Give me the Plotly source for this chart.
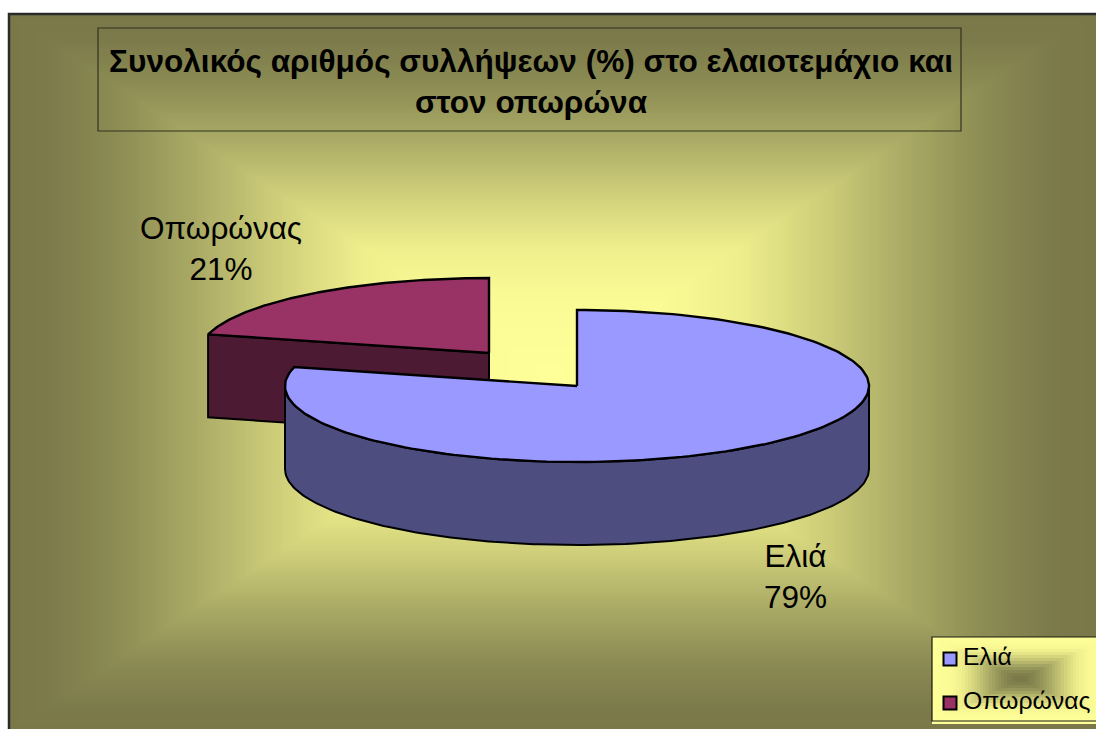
import numpy as np
import plotly.graph_objects as go

# Pie data
categories = ["Ελιά", "Οπωρώνας"]
shares = [79, 21]
top_colors = ["#9999FF", "#993366"]
side_colors = ["#4D4D80", "#4D1A33"]
title_lines = ["Συνολικός αριθμός συλλήψεων (%) στο ελαιοτεμάχιο και", "στον οπωρώνα"]

# Page-sized axes, so the geometry below reads in pixels
WIDTH, HEIGHT = 1096, 729
DEPTH = 83
CENTERS = [(577, 386), (489, 353)]  # each exploded slice has its own apex
RADII = [(292, 76), (290, 75)]

OLIVE_TO_YELLOW = [
    [0.00, "#FFFF99"], [0.20, "#FBFB96"], [0.35, "#EEEE8C"], [0.50, "#CFCF7A"],
    [0.65, "#ABAB66"], [0.80, "#8C8C54"], [0.93, "#7C7A4A"], [1.00, "#7A7848"],
]


def rim(center, radii, start_deg, end_deg, drop=0):
    """Points on the elliptical rim, clockwise from 12 o'clock."""
    theta = np.radians(np.linspace(start_deg, end_deg, 180))
    return center[0] + radii[0] * np.sin(theta), center[1] - radii[1] * np.cos(theta) + drop


def gradient(x0, x1, y0, y1, cx, cy, half_w, half_h, colorscale, step=3):
    """Rectangular from-centre gradient as a heatmap."""
    xs = np.arange(x0 + step / 2, x1 + step, step)
    ys = np.arange(y0 + step / 2, y1 + step, step)
    gx, gy = np.meshgrid(xs, ys)
    z = np.maximum(np.abs(gx - cx) / half_w, np.abs(gy - cy) / half_h)
    return go.Heatmap(x=xs, y=ys, z=z, zmin=0, zmax=1, colorscale=colorscale,
                      showscale=False, hoverinfo="skip", showlegend=False)


def polygon(xs, ys, color, width=2):
    return go.Scatter(x=xs, y=ys, mode="lines", fill="toself", fillcolor=color,
                      line=dict(color="black", width=width), hoverinfo="skip",
                      showlegend=False)


fig = go.Figure()

# Chart area and key backgrounds
fig.add_trace(gradient(9, WIDTH, 14, HEIGHT, 550, 373, 541, 359, OLIVE_TO_YELLOW))
fig.add_trace(gradient(932, WIDTH, 637, 721, 1020, 679, 88, 42,
                       [[1 - p, c] for p, c in reversed(OLIVE_TO_YELLOW)]))

# Slice angles follow from the shares
boundary = shares[0] / sum(shares) * 360

# Orchard slice: cut face first, then its top
c, r = CENTERS[1], RADII[1]
sx, sy = rim(c, r, boundary, boundary)
fig.add_trace(polygon([sx[0], c[0], c[0], sx[0], sx[0]],
                      [sy[0], c[1], c[1] + DEPTH, sy[0] + DEPTH, sy[0]], side_colors[1]))
rx, ry = rim(c, r, boundary, 360)
fig.add_trace(polygon([c[0], *rx, c[0]], [c[1], *ry, c[1]], top_colors[1], 2.4))

# Olive slice: outer wall of the front half, then its top
c, r = CENTERS[0], RADII[0]
wx, wy = rim(c, r, 90, 270)
bx, by = rim(c, r, 270, 90, DEPTH)
fig.add_trace(polygon([*wx, *bx, wx[0]], [*wy, *by, wy[0]], side_colors[0]))
rx, ry = rim(c, r, 0, boundary)
fig.add_trace(polygon([c[0], *rx, c[0]], [c[1], *ry, c[1]], top_colors[0], 2.4))

# Key: swatch and name for each category, placed inside its frame
key_x, key_text_x, key_ys = 950, 963, [659, 703]
fig.add_trace(go.Scatter(
    x=[key_x, key_x], y=key_ys, mode="markers",
    marker=dict(symbol="square", size=13, color=top_colors,
                line=dict(color="black", width=2)),
    hoverinfo="skip", showlegend=False))
fig.add_trace(go.Scatter(
    x=[key_text_x, key_text_x], y=key_ys, mode="text", text=categories,
    textposition="middle right", textfont=dict(size=24.8, color="black"),
    hoverinfo="skip", showlegend=False))

# Data labels
label_positions = [(795, 576), (221, 248)]
annotations = [
    dict(x=px, y=py, xref="x", yref="y", showarrow=False,
         text=f"{name}<br>{value}%", font=dict(size=31.5, color="black"))
    for (px, py), name, value in zip(label_positions, categories, shares)
]

shapes = [
    # outer chart border, running off the page to the right and bottom
    dict(type="rect", xref="x", yref="y", x0=9, y0=14, x1=WIDTH + 10, y1=HEIGHT + 10,
         line=dict(color="#2A2A2A", width=2.5), layer="above"),
    # title frame
    dict(type="rect", xref="x", yref="y", x0=98, y0=28, x1=961, y1=131,
         line=dict(color="#33331F", width=1.2), layer="above"),
    # key frame
    dict(type="rect", xref="x", yref="y", x0=932, y0=637, x1=WIDTH + 10, y1=721,
         line=dict(color="#1A1A10", width=1.2), layer="above"),
]

fig.update_layout(
    width=WIDTH, height=HEIGHT, autosize=False,
    margin=dict(l=0, r=0, t=0, b=0),
    paper_bgcolor="white", plot_bgcolor="white", showlegend=False,
    font=dict(family="Liberation Sans, Arial, sans-serif", color="black"),
    title=dict(text="<br>".join(title_lines), x=531 / WIDTH, xanchor="center",
               y=1 - 72 / HEIGHT, yanchor="middle",
               font=dict(size=31.6, color="black", family="Liberation Sans, Arial, sans-serif", weight="bold")),
    xaxis=dict(range=[0, WIDTH], visible=False, fixedrange=True),
    yaxis=dict(range=[HEIGHT, 0], visible=False, fixedrange=True),
    annotations=annotations,
    shapes=shapes,
)

fig.write_html("out.html")
